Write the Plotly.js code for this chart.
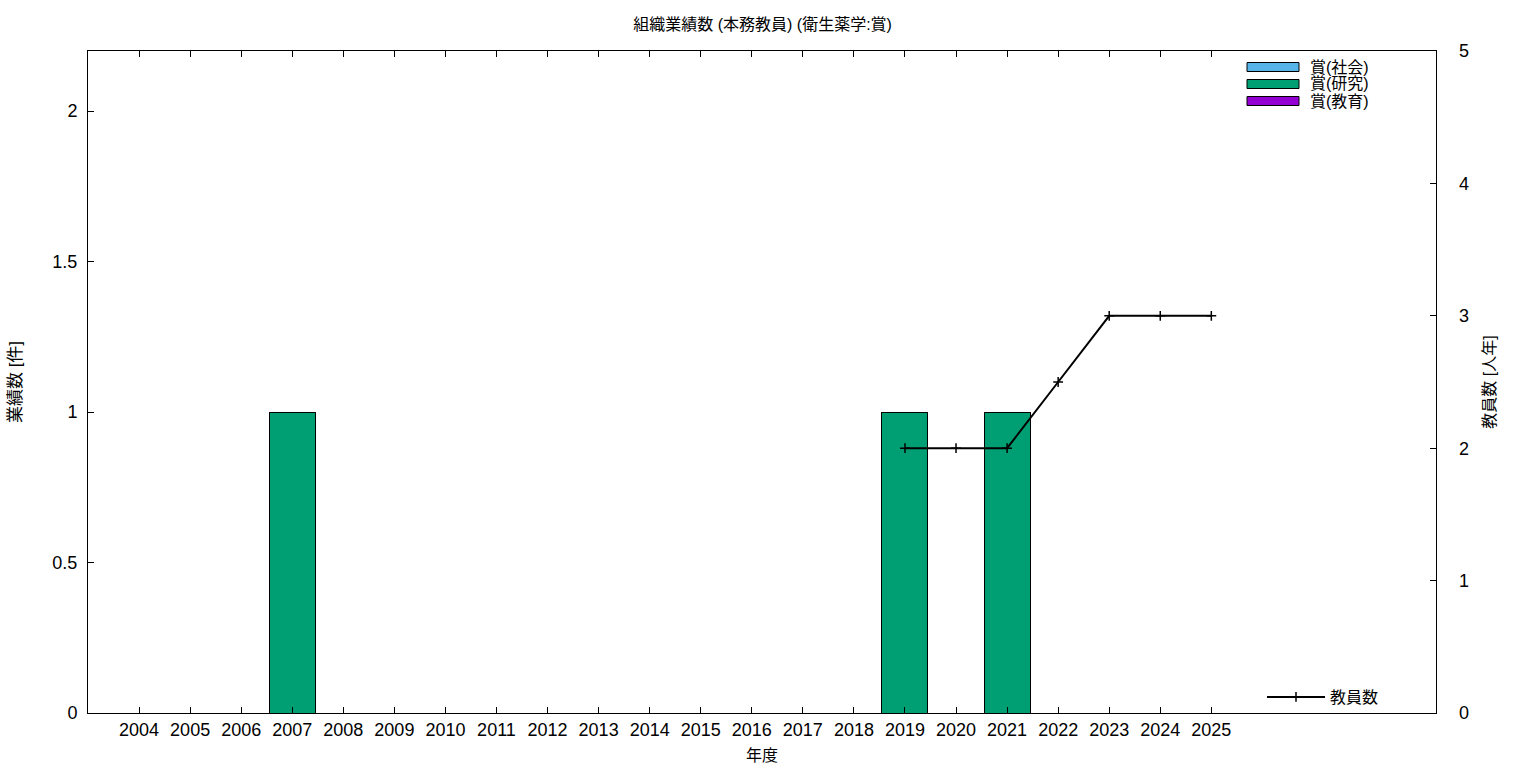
<!DOCTYPE html>
<html><head><meta charset="utf-8">
<script src="https://cdn.plot.ly/plotly-3.0.1.min.js"></script>
<style>body{margin:0;background:#fff}#c{width:1536px;height:768px}</style>
</head><body><div id="c"></div>
<script>
const years = [2004,2005,2006,2007,2008,2009,2010,2011,2012,2013,2014,2015,2016,2017,2018,2019,2020,2021,2022,2023,2024,2025];
const awardSocial   = [0,0,0,0,0,0,0,0,0,0,0,0,0,0,0,0,0,0,0,0,0,0];
const awardResearch = [0,0,0,1,0,0,0,0,0,0,0,0,0,0,0,1,0,1,0,0,0,0];
const awardEducation= [0,0,0,0,0,0,0,0,0,0,0,0,0,0,0,0,0,0,0,0,0,0];
const staffYears = [2019,2020,2021,2022,2023,2024,2025];
const staffCount = [2,2,2,2.5,3,3,3];
const seriesNames = ['賞(社会)','賞(研究)','賞(教育)'];
const seriesColors = ['#56b4e9','#009e73','#9400d3'];
const lineName = '教員数';

const FONT = 'Liberation Sans, Noto Sans CJK JP, sans-serif';
const barData = [awardSocial, awardResearch, awardEducation];
const traces = barData.map((v,i)=>({
  type:'bar', x:years, y:v, name:seriesNames[i], width:0.9,
  marker:{color:seriesColors[i], line:{color:'#000', width:1}},
  showlegend:false, hoverinfo:'x+y'
}));
traces.push({
  type:'scatter', mode:'lines+markers', x:staffYears, y:staffCount, yaxis:'y2',
  name:lineName, line:{color:'#000', width:2},
  marker:{symbol:'cross-thin-open', size:7, line:{color:'#000', width:1.5}},
  legend:'legend2'
});

// manual legend for bars (wide swatches)
const shapes = [], annotations = [];
const W = 1348, H = 662;
seriesNames.forEach((n,i)=>{
  const yc = 67 + i*17;
  shapes.push({type:'rect', xref:'paper', yref:'paper',
    x0:(1247-88)/W, x1:(1299-88)/W, y0:(713-(yc+4.5))/H, y1:(713-(yc-4.5))/H,
    fillcolor:seriesColors[i], line:{color:'#000', width:1}});
  annotations.push({xref:'paper', yref:'paper', x:(1308-88)/W, y:(713-yc)/H,
    xanchor:'left', yanchor:'middle', text:n, showarrow:false,
    font:{family:FONT, size:16, color:'#000'}});
});

const layout = {
  width:1536, height:768,
  margin:{l:88, r:100, t:51, b:55},
  paper_bgcolor:'#fff', plot_bgcolor:'#fff',
  font:{family:FONT, color:'#000'},
  title:{text:'組織業績数 (本務教員) (衛生薬学:賞)', x:0.4965, xanchor:'center', y:0.968, yanchor:'middle', font:{size:16, family:FONT}},
  barmode:'stack',
  xaxis:{range:[2003,2029.4], tickvals:years, ticktext:years.map(String),
    ticks:'inside', ticklen:6, tickcolor:'#000', showline:true, linecolor:'#000', linewidth:1,
    mirror:'ticks', showgrid:false, zeroline:false, tickfont:{size:18, family:FONT},
    title:{text:'年度', font:{size:16, family:FONT}, standoff:11}},
  yaxis:{range:[0,2.2], tickvals:[0,0.5,1,1.5,2], ticktext:['0','0.5','1','1.5','2'],
    ticks:'inside', ticklen:6, tickcolor:'#000', showline:true, linecolor:'#000', linewidth:1,
    mirror:true, showgrid:false, zeroline:false, tickfont:{size:18, family:FONT}, ticklabelstandoff:6,
    title:{text:'業績数 [件]', font:{size:17, family:FONT}, standoff:26}},
  yaxis2:{range:[0,5], overlaying:'y', side:'right', tickvals:[0,1,2,3,4,5],
    ticks:'inside', ticklen:6, tickcolor:'#000', showline:false, showgrid:false, zeroline:false,
    tickfont:{size:18, family:FONT}, ticklabelstandoff:22,
    title:{text:'教員数 [人年]', font:{size:16, family:FONT}, standoff:15}},
  showlegend:true,
  legend2:{x:(1262-88)/W, y:(713-697)/H, xanchor:'left', yanchor:'middle',
    bgcolor:'rgba(0,0,0,0)', font:{size:16, family:FONT}, itemwidth:58},
  shapes:shapes, annotations:annotations
};
Plotly.newPlot('c', traces, layout, {displayModeBar:false, staticPlot:true});
</script></body></html>
